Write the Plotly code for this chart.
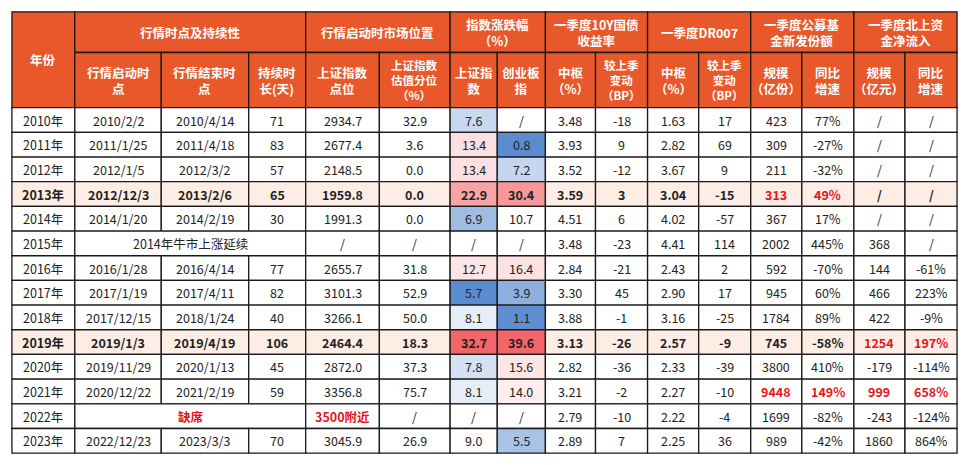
import plotly.graph_objects as go
from plotly.colors import sample_colorscale
import numpy as np

years = ["2010年", "2011年", "2012年", "2013年", "2014年", "2015年", "2016年", "2017年",
         "2018年", "2019年", "2020年", "2021年", "2022年", "2023年"]
start_dates = ["2010/2/2", "2011/1/25", "2012/1/5", "2012/12/3", "2014/1/20", None, "2016/1/28",
               "2017/1/19", "2017/12/15", "2019/1/3", "2019/11/29", "2020/12/22", None, "2022/12/23"]
end_dates = ["2010/4/14", "2011/4/18", "2012/3/2", "2013/2/6", "2014/2/19", None, "2016/4/14",
             "2017/4/11", "2018/1/24", "2019/4/19", "2020/1/13", "2021/2/19", None, "2023/3/3"]
duration = ["71", "83", "57", "65", "30", None, "77", "82", "40", "106", "45", "59", None, "70"]
sh_level = ["2934.7", "2677.4", "2148.5", "1959.8", "1991.3", "/", "2655.7", "3101.3", "3266.1",
            "2464.4", "2872.0", "3356.8", "3500附近", "3045.9"]
sh_pct = ["32.9", "3.6", "0.0", "0.0", "0.0", "/", "31.8", "52.9", "50.0", "18.3", "37.3", "75.7", "/", "26.9"]
sh_chg = [7.6, 13.4, 13.4, 22.9, 6.9, None, 12.7, 5.7, 8.1, 32.7, 7.8, 8.1, None, 9.0]
cy_chg = [None, 0.8, 7.2, 30.4, 10.7, None, 16.4, 3.9, 1.1, 39.6, 15.6, 14.0, None, 5.5]
bond_mid = ["3.48", "3.93", "3.52", "3.59", "4.51", "3.48", "2.84", "3.30", "3.88", "3.13", "2.82", "3.21", "2.79", "2.89"]
bond_chg = ["-18", "9", "-12", "3", "6", "-23", "-21", "45", "-1", "-26", "-36", "-2", "-10", "7"]
dr_mid = ["1.63", "2.82", "3.67", "3.04", "4.02", "4.41", "2.43", "2.90", "3.16", "2.57", "2.33", "2.27", "2.22", "2.25"]
dr_chg = ["17", "69", "9", "-15", "-57", "114", "2", "17", "-25", "-9", "-39", "-10", "-4", "36"]
fund_size = ["423", "309", "211", "313", "367", "2002", "592", "945", "1784", "745", "3800", "9448", "1699", "989"]
fund_yoy = ["77%", "-27%", "-32%", "49%", "17%", "445%", "-70%", "60%", "89%", "-58%", "410%", "149%", "-82%", "-42%"]
north_size = ["/", "/", "/", "/", "/", "368", "144", "466", "422", "1254", "-179", "999", "-243", "1860"]
north_yoy = ["/", "/", "/", "/", "/", "/", "-61%", "223%", "-9%", "197%", "-114%", "658%", "-124%", "864%"]

red_cells = {(3, 12), (3, 13), (9, 14), (9, 15), (11, 12), (11, 13), (11, 14), (11, 15)}
bold_rows = {3, 9}

# geometry (pixels of the reference)
xs = [4, 68, 156, 245, 303, 378, 450, 498, 547, 598, 651, 703, 756, 808, 861, 913, 966]
y_top, y_h1, y_h2, row_h = 4, 46, 103, 25.5
ORANGE = "#E8582B"
HILITE = "#FDEDE4"
FONT = "Noto Sans CJK SC"

fig = go.Figure()
shapes, annos = [], []

def cell(x0, x1, y0, y1, text, fill="white", color="#222", bold=False, size=12.5):
    shapes.append(dict(type="rect", xref="x", yref="y", x0=x0, x1=x1, y0=y0, y1=y1,
                       fillcolor=fill, line=dict(color="#1a1a1a", width=1.3), layer="below"))
    if text:
        annos.append(dict(x=(x0 + x1) / 2, y=(y0 + y1) / 2, xref="x", yref="y", showarrow=False,
                          text=f"<b>{text}</b>" if bold else text,
                          font=dict(family=FONT, size=size, color=color)))

# header
hb = dict(fill=ORANGE, color="white", bold=True, size=12.5)
cell(xs[0], xs[1], y_top, y_h2, "年份", **hb)
groups = [(1, 4, "行情时点及持续性"), (4, 6, "行情启动时市场位置"), (6, 8, "指数涨跌幅<br>（%）"),
          (8, 10, "一季度10Y国债<br>收益率"), (10, 12, "一季度DR007"), (12, 14, "一季度公募基<br>金新发份额"),
          (14, 16, "一季度北上资<br>金净流入")]
for a, b, t in groups:
    cell(xs[a], xs[b], y_top, y_h1, t, **hb)
subs = ["行情启动时<br>点", "行情结束时<br>点", "持续时<br>长(天)", "上证指数<br>点位", "上证指数<br>估值分位<br>（%）",
        "上证指<br>数", "创业板<br>指", "中枢<br>（%）", "较上季<br>变动<br>（BP）", "中枢<br>（%）", "较上季<br>变动<br>（BP）",
        "规模<br>（亿份）", "同比<br>增速", "规模<br>（亿元）", "同比<br>增速"]
for i, t in enumerate(subs):
    n_lines = t.count("<br>") + 1
    cell(xs[i + 1], xs[i + 2], y_h1, y_h2, t, fill=ORANGE, color="white", bold=True,
         size=12.5 if n_lines < 3 else 11.5)

def heat(vals):
    v = np.array([x for x in vals if x is not None])
    lo, mid, hi = v.min(), np.median(v), v.max()
    scale = [[0, "#5A8CCF"], [0.5, "#FFFFFF"], [1, "#F2666A"]]
    out = []
    for x in vals:
        if x is None:
            out.append(None)
            continue
        t = 0.5 * (x - lo) / (mid - lo) if x <= mid else 0.5 + 0.5 * (x - mid) / (hi - mid)
        out.append(sample_colorscale(scale, [t])[0])
    return out

sh_col, cy_col = heat(sh_chg), heat(cy_chg)

for r in range(len(years)):
    y0 = y_h2 + r * row_h
    y1 = y0 + row_h
    base = HILITE if r in bold_rows else "white"
    b = r in bold_rows
    cols = [years[r], start_dates[r], end_dates[r], duration[r], sh_level[r], sh_pct[r],
            sh_chg[r], cy_chg[r], bond_mid[r], bond_chg[r], dr_mid[r], dr_chg[r],
            fund_size[r], fund_yoy[r], north_size[r], north_yoy[r]]
    c = 0
    while c < 16:
        if c == 1 and start_dates[r] is None:
            if r == 5:
                cell(xs[1], xs[4], y0, y1, "2014年牛市上涨延续", fill=base)
            else:
                cell(xs[1], xs[4], y0, y1, "缺席", fill=base, color="#E8131B", bold=True)
            c = 4
            continue
        val = cols[c]
        fill = base
        if c in (6, 7):
            colr = (sh_col if c == 6 else cy_col)[r]
            if val is None:
                txt = "/"
            else:
                txt = f"{val:.1f}"
                fill = colr
        else:
            txt = val
        color = "#E8131B" if (r, c) in red_cells or txt == "3500附近" else "#222"
        cell(xs[c], xs[c + 1], y0, y1, txt, fill=fill, color=color,
             bold=b or color == "#E8131B")
        c += 1

fig.update_layout(width=952, height=450, margin=dict(l=0, r=0, t=0, b=0),
                  plot_bgcolor="white", paper_bgcolor="white", shapes=shapes, annotations=annos,
                  xaxis=dict(range=[0, 969], visible=False, fixedrange=True),
                  yaxis=dict(range=[465, 0], visible=False, fixedrange=True),
                  showlegend=False)
fig.write_html("out.html")
